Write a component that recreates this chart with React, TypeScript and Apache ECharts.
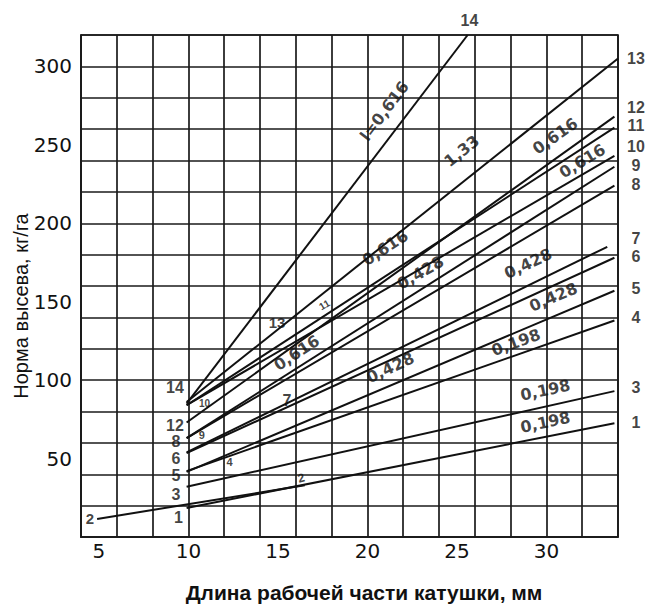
import React, { useEffect, useRef } from "react";
import * as echarts from "echarts";

// Axis ticks
const xTickLabels = [5, 10, 15, 20, 25, 30];
const yTickLabels = [50, 100, 150, 200, 250, 300];

// Curves 1..14: start and end points (mm, kg/ha)
const curveNames = ["1", "2", "3", "4", "5", "6", "7", "8", "9", "10", "11", "12", "13", "14"];
const curveX0 = [9.9, 4.9, 9.9, 9.9, 9.9, 9.9, 9.9, 9.9, 9.9, 9.9, 9.9, 9.9, 9.9, 9.9];
const curveY0 = [18.5, 11.5, 32, 42, 41.5, 53.5, 54, 63, 63, 84, 84, 73, 86, 85];
const curveX1 = [33.8, 16.5, 33.8, 33.8, 33.8, 33.8, 33.4, 33.8, 33.8, 33.8, 33.8, 33.8, 34, 25.6];
const curveY1 = [72.5, 33, 93, 138, 157, 178, 185, 224, 236, 243, 261, 268, 305, 320];

// Coefficient notes written along the curves
const noteTexts = ["l=0,616", "1,33", "0,616", "0,616", "0,616", "0,428", "0,428", "0,428", "0,198", "0,428", "0,198", "0,198", "0,616"];
const noteX = [20.95, 25.27, 30.49, 32.01, 21.0, 22.96, 28.98, 30.39, 28.3, 21.28, 29.94, 29.94, 16.05];
const noteY = [271.5, 246, 255.6, 239.7, 184.3, 168.5, 174.3, 152.9, 124, 107.9, 93.6, 73.1, 117.4];
const noteAngles = [53, 39, 35, 31, 33, 30, 25, 23, 20, 25, 12, 12, 33];

// Curve numbers at the start of the curves
const leftNames = ["14", "12", "8", "6", "5", "3", "1", "2"];
const leftX = [9.25, 9.25, 9.3, 9.3, 9.3, 9.3, 9.45, 4.5];
const leftY = [95, 70.8, 60.8, 50, 39.5, 27.4, 12.7, 11.5];

// Curve numbers at the end of the curves
const rightNames = ["14", "13", "12", "11", "10", "9", "8", "7", "6", "5", "4", "3", "1"];
const rightX = [25.7, 35, 35, 35, 35, 35, 35, 35, 35, 35, 35, 35, 35];
const rightY = [329.5, 305, 273.5, 262.5, 249, 237, 225, 190, 178.5, 158.7, 140, 95, 73];

// Small curve numbers inside the plot
const innerNames = ["13", "7", "11", "10", "9", "4", "2"];
const innerX = [14.95, 15.5, 17.6, 10.9, 10.75, 12.3, 16.3];
const innerY = [137, 87, 148, 85.4, 65, 48, 37.6];
const innerAngles = [0, 0, 30, 0, 0, 0, 15];
const innerSizes = [15, 16, 10, 10, 11, 11, 12];

const INK = "#111";
const SANS = "DejaVu Sans";
const NUM = "Liberation Sans";

export default function App() {
  const ref = useRef<HTMLDivElement>(null);

  useEffect(() => {
    document.body.style.margin = "0";
    if (!ref.current) return;
    const chart = echarts.init(ref.current, null, { renderer: "svg" });

    const lineSeries = curveNames.map((name, i) => ({
      type: "line" as const,
      name,
      data: [
        [curveX0[i], curveY0[i]],
        [curveX1[i], curveY1[i]],
      ],
      showSymbol: false,
      symbol: "none",
      lineStyle: { color: "#111", width: 2 },
      silent: true,
      z: 3,
    }));

    const mkLabel = (t: string, size: number, family: string, weight: string, rotate = 0) => ({
      show: true,
      formatter: t,
      rotate,
      fontSize: size,
      fontWeight: weight,
      fontFamily: family,
      color: INK,
      textBorderWidth: 0,
      textBorderColor: "transparent",
      position: "inside",
    });

    const noteData = noteTexts.map((t, i) => ({
      value: [noteX[i], noteY[i]],
      label: mkLabel(t, 16, SANS, "bold", noteAngles[i]),
    }));

    const leftData = leftNames.map((t, i) => ({
      value: [leftX[i], leftY[i]],
      label: mkLabel(t, i === 7 ? 15 : 16, NUM, "bold"),
    }));

    const rightData = rightNames.map((t, i) => ({
      value: [rightX[i], rightY[i]],
      label: mkLabel(t, 16, NUM, "bold"),
    }));

    const innerData = innerNames.map((t, i) => ({
      value: [innerX[i], innerY[i]],
      label: mkLabel(t, innerSizes[i], NUM, "bold", innerAngles[i]),
    }));

    const textScatter = (data: any[]) => ({
      type: "scatter" as const,
      data,
      symbolSize: 0,
      itemStyle: { color: INK },
      clip: false,
      silent: true,
      z: 5,
      labelLayout: { hideOverlap: false },
    });

    const axisLineStyle = { color: "#1a1a1a", width: 1.7 };

    chart.setOption({
      animation: false,
      backgroundColor: "#fff",
      grid: {
        left: 81,
        right: 30,
        top: 35,
        bottom: 69,
        show: true,
        borderColor: "#1a1a1a",
        borderWidth: 1.7,
      },
      xAxis: {
        type: "value",
        min: 4,
        max: 34,
        interval: 2,
        axisLine: { show: true, lineStyle: axisLineStyle },
        axisTick: { show: false },
        axisLabel: {
          customValues: xTickLabels,
          fontSize: 20,
          fontFamily: SANS,
          color: INK,
          margin: 4,
        },
        splitLine: { show: true, lineStyle: axisLineStyle },
      },
      yAxis: {
        type: "value",
        min: 0,
        max: 320,
        interval: 20,
        axisLine: { show: true, lineStyle: axisLineStyle },
        axisTick: { show: false },
        axisLabel: {
          customValues: yTickLabels,
          fontSize: 20,
          fontFamily: SANS,
          color: INK,
          margin: 9,
        },
        splitLine: { show: true, lineStyle: axisLineStyle },
      },
      graphic: [
        {
          type: "text",
          x: 364,
          y: 592,
          style: {
            text: "Длина рабочей части катушки, мм",
            fontSize: 21,
            fontWeight: "bold",
            fontFamily: NUM,
            fill: INK,
            textAlign: "center",
            textVerticalAlign: "middle",
          },
        },
        {
          type: "text",
          x: 21,
          y: 306,
          rotation: Math.PI / 2,
          style: {
            text: "Норма высева, кг/га",
            fontSize: 20,
            fontFamily: NUM,
            fill: INK,
            textAlign: "center",
            textVerticalAlign: "middle",
          },
        },
      ],
      series: [
        ...lineSeries,
        textScatter(noteData),
        textScatter(leftData),
        textScatter(rightData),
        textScatter(innerData),
      ],
    });

    return () => chart.dispose();
  }, []);

  return <div ref={ref} style={{ width: 648, height: 606 }} />;
}
